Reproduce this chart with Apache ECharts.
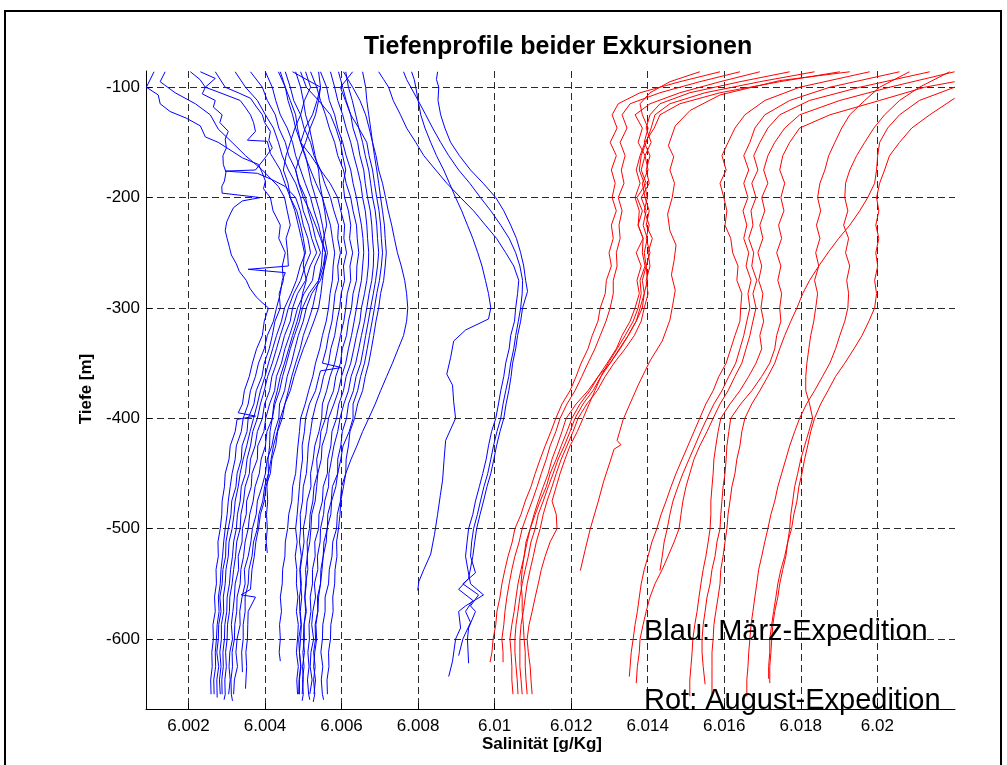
<!DOCTYPE html>
<html><head><meta charset="utf-8">
<script src="https://cdn.jsdelivr.net/npm/echarts@6/dist/echarts.min.js"></script>
<style>html,body{margin:0;padding:0;background:#fff}#c{width:1007px;height:765px}</style>
</head><body><div id="c"></div>
<script>
// ---- tick labels ----
const xTicks = [6.002, 6.004, 6.006, 6.008, 6.010, 6.012, 6.014, 6.016, 6.018, 6.020];
const yTicks = [-600, -500, -400, -300, -200, -100];

// ---- depth grids (m) ----
const DG = [-86,-100,-112,-125,-137,-150,-162,-175,-187,-200,-212,-225,-237,-250,-262,-275,-287,-300,-312,-325,-337,-350,-362,-375,-387,-400,-412,-425,-437,-450,-462,-475,-487,-500,-512,-525,-537,-550,-562,-575,-587,-600,-612,-625,-637,-650];
const DG100 = [-100,-112,-125,-137,-150,-162,-175,-187,-200,-212,-225,-237,-250,-262,-275,-287,-300,-312,-325,-337,-350,-362,-375,-387,-400,-412,-425,-437,-450,-462,-475,-487,-500,-512,-525,-537,-550,-562,-575,-587,-600,-612,-625,-637,-650];
const DG125 = [-125,-137,-150,-162,-175,-187,-200,-212,-225,-237,-250,-262,-275,-287,-300,-312,-325,-337,-350,-362,-375,-387,-400,-412,-425,-437,-450,-462,-475,-487,-500,-512,-525,-537,-550,-562,-575,-587,-600,-612,-625];
const DR = [-86,-95,-105,-115,-125,-137,-150,-162,-175,-187,-200,-212,-225,-237,-250,-262,-275,-287,-300,-312,-325,-337,-350,-362,-375,-387,-400,-412,-425,-437,-450,-462,-475,-487,-500,-512,-525,-537,-550,-562,-575,-587,-600,-612,-625,-637,-650];

// ---- Blue profiles (March), explicit [salinity, depth] ----
const blueL1 = [[6.00110,-86],[6.00090,-100],[6.00121,-107],[6.00126,-115],[6.00152,-122],[6.00194,-128],[6.00231,-135],[6.00244,-145],[6.00278,-150],[6.00314,-158],[6.00341,-164],[6.00383,-170],[6.00392,-177],[6.00401,-185],[6.00396,-192],[6.00414,-200],[6.00421,-212],[6.00440,-225],[6.00436,-237],[6.00453,-250],[6.00445,-262],[6.00448,-275],[6.00437,-287],[6.00440,-300],[6.00426,-312],[6.00419,-325],[6.00411,-337],[6.00398,-350],[6.00392,-362],[6.00377,-375],[6.00371,-387],[6.00356,-400],[6.00353,-412],[6.00340,-425],[6.00338,-437],[6.00327,-450],[6.00324,-462],[6.00313,-475],[6.00311,-487],[6.00304,-500],[6.00298,-512],[6.00297,-525],[6.00290,-537],[6.00288,-550],[6.00282,-562],[6.00285,-575],[6.00279,-587],[6.00278,-600],[6.00274,-612],[6.00279,-625],[6.00274,-637],[6.00275,-653]];
const blueL2 = [[6.00205,-86],[6.00230,-93],[6.00244,-100],[6.00236,-106],[6.00270,-112],[6.00265,-118],[6.00288,-125],[6.00282,-132],[6.00304,-140],[6.00296,-147],[6.00299,-155],[6.00290,-162],[6.00291,-170],[6.00298,-177],[6.00294,-185],[6.00287,-190],[6.00288,-196],[6.00388,-200],[6.00341,-203],[6.00318,-209],[6.00309,-215],[6.00300,-222],[6.00296,-230],[6.00301,-237],[6.00307,-245],[6.00312,-252],[6.00325,-260],[6.00333,-267],[6.00351,-275],[6.00360,-282],[6.00377,-290],[6.00392,-295],[6.00409,-300],[6.00398,-312],[6.00393,-325],[6.00378,-337],[6.00367,-350],[6.00359,-362],[6.00346,-375],[6.00341,-387],[6.00330,-395],[6.00375,-398],[6.00327,-401],[6.00322,-412],[6.00309,-425],[6.00306,-437],[6.00296,-450],[6.00294,-462],[6.00288,-475],[6.00287,-487],[6.00283,-500],[6.00277,-512],[6.00278,-525],[6.00272,-537],[6.00273,-550],[6.00268,-562],[6.00270,-575],[6.00264,-587],[6.00265,-600],[6.00261,-612],[6.00262,-625],[6.00258,-637],[6.00259,-650]];
const blueA2 = [[6.00139,-86],[6.00126,-95],[6.00165,-105],[6.00218,-115],[6.00257,-125],[6.00278,-138],[6.00314,-150],[6.00349,-162],[6.00393,-175],[6.00435,-190],[6.00451,-200],[6.00458,-212],[6.00466,-225],[6.00455,-237],[6.00459,-250],[6.00461,-262],[6.00356,-265],[6.00453,-268],[6.00445,-275],[6.00440,-287],[6.00430,-300],[6.00422,-312],[6.00406,-325],[6.00398,-337],[6.00383,-350],[6.00375,-362],[6.00362,-375],[6.00356,-387],[6.00343,-400],[6.00338,-412],[6.00325,-425],[6.00322,-437],[6.00314,-450],[6.00309,-462],[6.00304,-475],[6.00301,-487],[6.00296,-500],[6.00292,-512],[6.00289,-525],[6.00285,-537],[6.00283,-550],[6.00278,-562],[6.00280,-575],[6.00275,-587],[6.00273,-600],[6.00270,-612],[6.00271,-625],[6.00266,-637],[6.00267,-650]];
const blueA4 = [[6.00231,-86],[6.00270,-92],[6.00244,-100],[6.00275,-104],[6.00335,-112],[6.00348,-118],[6.00362,-125],[6.00370,-132],[6.00375,-140],[6.00354,-148],[6.00406,-149],[6.00414,-160],[6.00428,-168],[6.00440,-175],[6.00452,-187],[6.00466,-200],[6.00483,-212],[6.00493,-225],[6.00500,-237],[6.00506,-250],[6.00492,-262],[6.00482,-275],[6.00468,-287],[6.00451,-300],[6.00443,-312],[6.00430,-325],[6.00420,-337],[6.00409,-350],[6.00400,-362],[6.00388,-375],[6.00380,-387],[6.00370,-400],[6.00361,-412],[6.00352,-425],[6.00343,-437],[6.00335,-450],[6.00330,-462],[6.00322,-475],[6.00319,-487],[6.00314,-500],[6.00306,-512],[6.00304,-525],[6.00298,-537],[6.00296,-550],[6.00291,-562],[6.00292,-575],[6.00286,-587],[6.00286,-600],[6.00282,-612],[6.00285,-625],[6.00281,-637],[6.00283,-650]];
const blueA5 = [[6.00270,-86],[6.00296,-100],[6.00330,-105],[6.00362,-110],[6.00378,-118],[6.00393,-125],[6.00399,-132],[6.00414,-140],[6.00410,-148],[6.00419,-155],[6.00398,-165],[6.00375,-175],[6.00296,-176],[6.00380,-178],[6.00420,-184],[6.00453,-190],[6.00480,-200],[6.00492,-212],[6.00500,-225],[6.00512,-237],[6.00519,-250],[6.00505,-262],[6.00493,-275],[6.00475,-287],[6.00461,-300],[6.00452,-312],[6.00440,-325],[6.00430,-337],[6.00419,-350],[6.00407,-362],[6.00398,-375],[6.00388,-387],[6.00380,-400],[6.00368,-412],[6.00362,-425],[6.00353,-437],[6.00349,-450],[6.00338,-462],[6.00335,-475],[6.00328,-487],[6.00325,-500],[6.00318,-512],[6.00315,-525],[6.00310,-537],[6.00307,-550],[6.00301,-562],[6.00300,-575],[6.00295,-587],[6.00294,-600],[6.00290,-612],[6.00291,-625],[6.00287,-637],[6.00288,-650]];
const blueA12 = [[6.00540,-86],[6.00545,-100],[6.00540,-112],[6.00532,-125],[6.00518,-137],[6.00506,-150],[6.00492,-162],[6.00480,-175],[6.00488,-187],[6.00500,-200],[6.00517,-212],[6.00532,-225],[6.00545,-237],[6.00558,-250],[6.00555,-262],[6.00550,-275],[6.00546,-287],[6.00540,-300],[6.00528,-312],[6.00514,-325],[6.00500,-337],[6.00487,-350],[6.00476,-362],[6.00466,-375],[6.00452,-387],[6.00445,-400],[6.00433,-412],[6.00428,-425],[6.00418,-437],[6.00414,-450],[6.00402,-462],[6.00398,-475],[6.00388,-487],[6.00383,-500],[6.00376,-512],[6.00372,-525],[6.00366,-537],[6.00362,-555],[6.00338,-560],[6.00375,-562],[6.00356,-575],[6.00355,-587],[6.00354,-600],[6.00350,-612],[6.00352,-625],[6.00349,-645]];
const blueB1 = [[6.00453,-86],[6.00466,-100],[6.00475,-112],[6.00493,-125],[6.00502,-137],[6.00519,-150],[6.00528,-162],[6.00545,-175],[6.00556,-187],[6.00571,-200],[6.00580,-212],[6.00592,-225],[6.00590,-237],[6.00597,-250],[6.00590,-262],[6.00592,-275],[6.00583,-287],[6.00579,-300],[6.00575,-312],[6.00566,-325],[6.00560,-337],[6.00550,-350],[6.00600,-354],[6.00545,-357],[6.00541,-362],[6.00532,-375],[6.00516,-387],[6.00506,-400],[6.00503,-412],[6.00497,-425],[6.00498,-437],[6.00493,-450],[6.00490,-462],[6.00487,-475],[6.00484,-487],[6.00480,-500],[6.00484,-512],[6.00479,-525],[6.00483,-537],[6.00482,-550],[6.00486,-562],[6.00482,-575],[6.00487,-587],[6.00485,-600],[6.00482,-612],[6.00487,-625],[6.00483,-637],[6.00485,-650]];
const blueC1 = [[6.00697,-86],[6.00710,-93],[6.00723,-100],[6.00735,-112],[6.00754,-125],[6.00770,-137],[6.00794,-150],[6.00815,-162],[6.00846,-175],[6.00875,-187],[6.00911,-200],[6.00945,-212],[6.00976,-225],[6.01005,-237],[6.01029,-250],[6.01050,-262],[6.01063,-275],[6.01060,-287],[6.01055,-300],[6.01052,-312],[6.01042,-325],[6.01038,-337],[6.01029,-350],[6.01024,-362],[6.01016,-375],[6.01010,-387],[6.01003,-400],[6.00992,-412],[6.00984,-425],[6.00978,-437],[6.00969,-450],[6.00960,-462],[6.00950,-475],[6.00943,-487],[6.00932,-500],[6.00928,-512],[6.00924,-525],[6.00930,-537],[6.00937,-550],[6.00971,-560],[6.00924,-570],[6.00906,-575],[6.00911,-590],[6.00898,-600],[6.00890,-620],[6.00880,-634]];
const blueC2 = [[6.00762,-86],[6.00770,-93],[6.00781,-100],[6.00800,-112],[6.00820,-125],[6.00838,-137],[6.00859,-150],[6.00880,-162],[6.00906,-175],[6.00935,-187],[6.00963,-200],[6.00990,-212],[6.01016,-225],[6.01038,-237],[6.01055,-250],[6.01066,-262],[6.01073,-275],[6.01072,-287],[6.01068,-300],[6.01062,-312],[6.01055,-325],[6.01050,-337],[6.01042,-350],[6.01037,-362],[6.01029,-375],[6.01022,-387],[6.01016,-400],[6.01006,-412],[6.00997,-425],[6.00990,-437],[6.00982,-450],[6.00972,-462],[6.00963,-475],[6.00955,-487],[6.00945,-500],[6.00940,-512],[6.00937,-525],[6.00950,-540],[6.00917,-550],[6.00958,-560],[6.00937,-570],[6.00950,-575],[6.00932,-590],[6.00929,-600],[6.00932,-622]];
const blueC3 = [[6.00851,-86],[6.00848,-93],[6.00854,-100],[6.00852,-112],[6.00859,-125],[6.00870,-137],[6.00885,-150],[6.00908,-162],[6.00937,-175],[6.00970,-187],[6.01003,-200],[6.01024,-212],[6.01042,-225],[6.01057,-237],[6.01068,-250],[6.01076,-262],[6.01081,-275],[6.01086,-285],[6.01073,-300],[6.01068,-312],[6.01060,-325],[6.01055,-337],[6.01047,-350],[6.01043,-362],[6.01037,-375],[6.01030,-387],[6.01024,-400],[6.01014,-412],[6.01005,-425],[6.00998,-437],[6.00990,-450],[6.00980,-462],[6.00971,-475],[6.00962,-487],[6.00953,-500],[6.00948,-512],[6.00943,-525],[6.00932,-545],[6.00906,-555],[6.00943,-565],[6.00924,-575],[6.00937,-585],[6.00917,-600],[6.00906,-615]];
const blueD = [[6.00783,-86],[6.00790,-93],[6.00794,-100],[6.00800,-112],[6.00807,-125],[6.00818,-137],[6.00833,-150],[6.00848,-162],[6.00867,-175],[6.00882,-187],[6.00898,-200],[6.00914,-212],[6.00929,-225],[6.00943,-237],[6.00956,-250],[6.00967,-262],[6.00976,-275],[6.00984,-287],[6.00990,-300],[6.00984,-310],[6.00924,-320],[6.00893,-330],[6.00885,-345],[6.00875,-360],[6.00890,-370],[6.00893,-385],[6.00898,-400],[6.00872,-420],[6.00868,-437],[6.00864,-456],[6.00858,-470],[6.00851,-487],[6.00843,-505],[6.00833,-523],[6.00815,-537],[6.00802,-548],[6.00799,-556]];

// ---- Blue profiles on the DG grid (salinity only) ----
const salA6 = [6.00322,6.00349,6.00380,6.00401,6.00422,6.00435,6.00445,6.00461,6.00480,6.00493,6.00500,6.00514,6.00522,6.00535,6.00518,6.00506,6.00485,6.00472,6.00466,6.00451,6.00442,6.00430,6.00418,6.00412,6.00399,6.00393,6.00380,6.00374,6.00362,6.00359,6.00348,6.00344,6.00337,6.00335,6.00326,6.00323,6.00318,6.00314,6.00308,6.00307,6.00302,6.00301,6.00297,6.00299,6.00295,6.00296];
const salA7 = [6.00362,6.00393,6.00406,6.00427,6.00436,6.00453,6.00462,6.00480,6.00489,6.00506,6.00513,6.00524,6.00532,6.00545,6.00530,6.00524,6.00502,6.00485,6.00476,6.00464,6.00452,6.00443,6.00430,6.00425,6.00412,6.00402,6.00397,6.00381,6.00380,6.00366,6.00364,6.00352,6.00351,6.00341,6.00340,6.00330,6.00331,6.00322,6.00320,6.00316,6.00312,6.00315,6.00308,6.00306,6.00309,6.00305];
const salA8 = [6.00401,6.00419,6.00428,6.00440,6.00458,6.00472,6.00480,6.00493,6.00505,6.00519,6.00528,6.00540,6.00548,6.00558,6.00552,6.00540,6.00515,6.00498,6.00490,6.00477,6.00466,6.00456,6.00446,6.00438,6.00426,6.00419,6.00405,6.00401,6.00390,6.00385,6.00374,6.00369,6.00360,6.00356,6.00348,6.00344,6.00337,6.00335,6.00327,6.00326,6.00321,6.00320,6.00314,6.00315,6.00311,6.00312];
const salA9 = [6.00440,6.00453,6.00466,6.00480,6.00485,6.00493,6.00506,6.00514,6.00521,6.00532,6.00542,6.00550,6.00556,6.00563,6.00556,6.00545,6.00522,6.00508,6.00500,6.00487,6.00478,6.00469,6.00458,6.00451,6.00438,6.00436,6.00425,6.00418,6.00406,6.00401,6.00392,6.00380,6.00377,6.00367,6.00363,6.00356,6.00346,6.00348,6.00340,6.00334,6.00335,6.00327,6.00324,6.00328,6.00320,6.00318];
const salA10 = [6.00480,6.00493,6.00500,6.00506,6.00516,6.00524,6.00531,6.00540,6.00543,6.00550,6.00556,6.00561,6.00553,6.00550,6.00547,6.00540,6.00532,6.00524,6.00513,6.00500,6.00492,6.00480,6.00470,6.00461,6.00452,6.00440,6.00432,6.00422,6.00416,6.00409,6.00399,6.00394,6.00384,6.00380,6.00370,6.00366,6.00358,6.00356,6.00348,6.00348,6.00343,6.00343,6.00339];
const salA11 = [6.00506,6.00519,6.00503,6.00493,6.00478,6.00466,6.00455,6.00448,6.00460,6.00466,6.00478,6.00487,6.00495,6.00503,6.00500,6.00508,6.00498,6.00493,6.00484,6.00472,6.00462,6.00451,6.00440,6.00432,6.00423,6.00419,6.00413,6.00412,6.00408,6.00409,6.00405,6.00407,6.00404,6.00406,6.00403];
const salB2 = [6.00472,6.00545,6.00536,6.00524,6.00505,6.00493,6.00520,6.00545,6.00570,6.00590,6.00598,6.00608,6.00606,6.00613,6.00605,6.00608,6.00599,6.00595,6.00588,6.00582,6.00572,6.00566,6.00553,6.00545,6.00533,6.00524,6.00519,6.00513,6.00511,6.00508,6.00500,6.00498,6.00492,6.00493,6.00490,6.00495,6.00491,6.00493,6.00496,6.00492,6.00495,6.00493,6.00490,6.00494,6.00490,6.00490];
const salB3 = [6.00493,6.00508,6.00540,6.00571,6.00585,6.00597,6.00603,6.00611,6.00604,6.00608,6.00618,6.00624,6.00621,6.00629,6.00622,6.00624,6.00615,6.00611,6.00606,6.00597,6.00590,6.00582,6.00570,6.00561,6.00550,6.00548,6.00541,6.00530,6.00526,6.00519,6.00520,6.00510,6.00507,6.00500,6.00502,6.00497,6.00492,6.00495,6.00490,6.00491,6.00494,6.00488,6.00490,6.00493,6.00489,6.00488];
const salB4 = [6.00519,6.00535,6.00545,6.00558,6.00568,6.00582,6.00590,6.00605,6.00612,6.00624,6.00630,6.00639,6.00641,6.00645,6.00640,6.00639,6.00630,6.00626,6.00618,6.00613,6.00602,6.00597,6.00585,6.00579,6.00565,6.00558,6.00546,6.00543,6.00535,6.00537,6.00528,6.00525,6.00518,6.00516,6.00510,6.00511,6.00506,6.00508,6.00504,6.00506,6.00502,6.00503,6.00499,6.00502,6.00498,6.00500];
const salB5 = [6.00545,6.00561,6.00568,6.00582,6.00590,6.00603,6.00612,6.00624,6.00630,6.00639,6.00645,6.00652,6.00656,6.00658,6.00655,6.00652,6.00645,6.00639,6.00633,6.00626,6.00618,6.00611,6.00600,6.00592,6.00580,6.00566,6.00561,6.00549,6.00547,6.00538,6.00535,6.00531,6.00522,6.00520,6.00517,6.00510,6.00512,6.00506,6.00504,6.00508,6.00502,6.00500,6.00503,6.00498,6.00500,6.00497];
const salB6 = [6.00571,6.00582,6.00590,6.00603,6.00612,6.00624,6.00632,6.00642,6.00650,6.00655,6.00662,6.00666,6.00668,6.00671,6.00670,6.00666,6.00660,6.00652,6.00648,6.00639,6.00632,6.00624,6.00612,6.00605,6.00593,6.00587,6.00575,6.00572,6.00564,6.00563,6.00552,6.00550,6.00541,6.00540,6.00530,6.00531,6.00524,6.00524,6.00518,6.00520,6.00515,6.00516,6.00512,6.00515,6.00511,6.00514];
const salB7 = [6.00592,6.00603,6.00612,6.00624,6.00630,6.00642,6.00648,6.00658,6.00662,6.00668,6.00675,6.00679,6.00681,6.00684,6.00683,6.00679,6.00672,6.00666,6.00660,6.00652,6.00645,6.00637,6.00625,6.00618,6.00606,6.00596,6.00590,6.00580,6.00574,6.00567,6.00566,6.00556,6.00553,6.00545,6.00544,6.00537,6.00538,6.00529,6.00532,6.00525,6.00522,6.00527,6.00520,6.00518,6.00523,6.00517];
const salB8 = [6.00611,6.00618,6.00628,6.00637,6.00645,6.00655,6.00662,6.00671,6.00676,6.00681,6.00688,6.00692,6.00694,6.00697,6.00694,6.00689,6.00683,6.00676,6.00670,6.00663,6.00657,6.00650,6.00638,6.00631,6.00618,6.00613,6.00602,6.00598,6.00590,6.00590,6.00576,6.00573,6.00564,6.00563,6.00554,6.00552,6.00546,6.00545,6.00537,6.00538,6.00531,6.00532,6.00527,6.00531,6.00527,6.00530];
const salB9 = [6.00629,6.00597,6.00610,6.00624,6.00645,6.00666,6.00672,6.00681,6.00686,6.00692,6.00698,6.00702,6.00704,6.00707,6.00704,6.00699,6.00692,6.00686,6.00680,6.00673,6.00667,6.00660,6.00650,6.00642,6.00630,6.00630,6.00620,6.00604,6.00598,6.00590,6.00585,6.00574,6.00572,6.00562,6.00560,6.00552,6.00549,6.00545,6.00540,6.00538,6.00533,6.00535,6.00530,6.00527,6.00532,6.00528];
const salB10 = [6.00655,6.00663,6.00666,6.00671,6.00676,6.00681,6.00686,6.00692,6.00697,6.00702,6.00707,6.00712,6.00714,6.00717,6.00714,6.00710,6.00702,6.00697,6.00690,6.00684,6.00678,6.00671,6.00662,6.00655,6.00642,6.00634,6.00622,6.00618,6.00612,6.00611,6.00600,6.00597,6.00589,6.00587,6.00577,6.00575,6.00568,6.00566,6.00557,6.00557,6.00551,6.00550,6.00546,6.00551,6.00547,6.00550];
const salB11 = [6.00605,6.00629,6.00648,6.00663,6.00672,6.00681,6.00690,6.00697,6.00707,6.00715,6.00722,6.00731,6.00738,6.00746,6.00756,6.00765,6.00770,6.00773,6.00770,6.00762,6.00748,6.00733,6.00718,6.00702,6.00688,6.00671,6.00655,6.00640,6.00625,6.00611,6.00605,6.00598,6.00596,6.00592,6.00587,6.00588,6.00583,6.00582,6.00577,6.00578,6.00572,6.00571,6.00566,6.00567,6.00562,6.00563];
const salB12 = [6.00435,6.00453,6.00460,6.00472,6.00480,6.00493,6.00504,6.00519,6.00533,6.00550,6.00560,6.00571,6.00576,6.00582,6.00578,6.00576,6.00570,6.00566,6.00560,6.00550,6.00543,6.00532,6.00525,6.00514,6.00505,6.00493,6.00490,6.00486,6.00483,6.00480,6.00472,6.00470,6.00462,6.00459,6.00453,6.00452,6.00446,6.00445,6.00440,6.00443,6.00438,6.00440,6.00437];

// ---- Red profiles (August) ----
const salR1a = [6.01589,6.01484,6.01380,6.01323,6.01307,6.01320,6.01302,6.01318,6.01305,6.01315,6.01307,6.01318,6.01305,6.01310,6.01299,6.01305,6.01292,6.01289,6.01276,6.01270,6.01255,6.01244,6.01226,6.01213,6.01197,6.01176,6.01160,6.01147,6.01132,6.01119,6.01106,6.01095,6.01080,6.01069,6.01053,6.01046,6.01035,6.01027,6.01019,6.01014,6.01006,6.01003,6.00996,6.00993];
const salR1b = [6.01641,6.01536,6.01432,6.01354,6.01333,6.01346,6.01328,6.01341,6.01331,6.01338,6.01323,6.01333,6.01325,6.01328,6.01318,6.01320,6.01310,6.01310,6.01302,6.01291,6.01276,6.01262,6.01244,6.01228,6.01210,6.01189,6.01171,6.01160,6.01145,6.01135,6.01122,6.01111,6.01098,6.01085,6.01072,6.01064,6.01053,6.01045,6.01038,6.01032,6.01027,6.01024,6.01019,6.01022];
const salR1c = [6.01693,6.01589,6.01484,6.01406,6.01367,6.01386,6.01375,6.01393,6.01383,6.01396,6.01372,6.01386,6.01375,6.01388,6.01370,6.01383,6.01372,6.01378,6.01367,6.01354,6.01333,6.01318,6.01294,6.01271,6.01249,6.01223,6.01202,6.01189,6.01174,6.01161,6.01145,6.01135,6.01119,6.01106,6.01093,6.01085,6.01077,6.01069,6.01061,6.01056,6.01051,6.01045,6.01040,6.01043,6.01045,6.01045,6.01048];
const salR1d = [6.01536,6.01458,6.01406,6.01380,6.01386,6.01401,6.01391,6.01406,6.01396,6.01404,6.01383,6.01396,6.01388,6.01399,6.01391,6.01396,6.01386,6.01391,6.01380,6.01370,6.01349,6.01328,6.01302,6.01278,6.01257,6.01231,6.01210,6.01197,6.01182,6.01166,6.01153,6.01140,6.01127,6.01114,6.01106,6.01095,6.01088,6.01080,6.01072,6.01066,6.01061,6.01056,6.01053,6.01053,6.01056,6.01059,6.01061];
const salR1e = [6.01771,6.01641,6.01510,6.01432,6.01406,6.01396,6.01409,6.01393,6.01401,6.01386,6.01393,6.01404,6.01396,6.01412,6.01401,6.01406,6.01396,6.01401,6.01391,6.01383,6.01365,6.01341,6.01312,6.01289,6.01268,6.01241,6.01218,6.01205,6.01189,6.01174,6.01161,6.01150,6.01137,6.01127,6.01119,6.01109,6.01101,6.01093,6.01085,6.01080,6.01075,6.01069,6.01066,6.01066,6.01066,6.01069,6.01072];
const salR1f = [6.01836,6.01693,6.01550,6.01458,6.01419,6.01409,6.01396,6.01383,6.01378,6.01391,6.01399,6.01391,6.01404,6.01396,6.01406,6.01396,6.01399,6.01391,6.01386,6.01370,6.01349,6.01326,6.01302,6.01271,6.01244,6.01213,6.01187,6.01176,6.01163,6.01150,6.01140,6.01127,6.01114,6.01103,6.01093,6.01082,6.01077,6.01072,6.01069,6.01072,6.01072,6.01075,6.01077,6.01080,6.01080,6.01082,6.01085];
const salR1g = [6.01902,6.01745,6.01589,6.01484,6.01432,6.01417,6.01393,6.01380,6.01370,6.01380,6.01367,6.01378,6.01375,6.01388,6.01386,6.01393,6.01380,6.01383,6.01375,6.01362,6.01341,6.01320,6.01297,6.01278,6.01262,6.01247,6.01231,6.01216,6.01197,6.01184,6.01171,6.01161,6.01150,6.01161,6.01163,6.01145,6.01132,6.01122,6.01114,6.01106,6.01098,6.01090,6.01085,6.01088,6.01093,6.01095,6.01098];
const redR2 = [[6.01928,-86],[6.01745,-94],[6.01589,-107],[6.01511,-121],[6.01472,-135],[6.01454,-153],[6.01468,-163],[6.01458,-175],[6.01470,-187],[6.01464,-200],[6.01452,-215],[6.01458,-230],[6.01474,-243],[6.01469,-257],[6.01462,-270],[6.01472,-284],[6.01465,-298],[6.01458,-311],[6.01438,-330],[6.01406,-348],[6.01375,-370],[6.01356,-385],[6.01336,-401],[6.01320,-420],[6.01330,-424],[6.01312,-428],[6.01302,-439],[6.01285,-457],[6.01271,-475],[6.01250,-500],[6.01236,-520],[6.01224,-538]];
const salM1 = [6.01980,6.01797,6.01706,6.01654,6.01628,6.01610,6.01594,6.01605,6.01589,6.01599,6.01607,6.01602,6.01617,6.01622,6.01636,6.01633,6.01646,6.01643,6.01641,6.01628,6.01617,6.01605,6.01586,6.01571,6.01552,6.01536,6.01521,6.01505,6.01490,6.01474,6.01461,6.01448,6.01435,6.01424,6.01411,6.01401,6.01391,6.01383,6.01378,6.01373,6.01367,6.01362,6.01357,6.01354];
const salM2 = [6.02058,6.01876,6.01771,6.01706,6.01680,6.01667,6.01651,6.01664,6.01651,6.01662,6.01649,6.01659,6.01651,6.01664,6.01657,6.01670,6.01662,6.01667,6.01659,6.01651,6.01641,6.01630,6.01612,6.01594,6.01573,6.01555,6.01539,6.01523,6.01508,6.01492,6.01479,6.01466,6.01458,6.01451,6.01443,6.01438];
const salM3 = [6.02137,6.01954,6.01823,6.01745,6.01714,6.01693,6.01677,6.01688,6.01672,6.01683,6.01670,6.01675,6.01664,6.01677,6.01672,6.01685,6.01675,6.01683,6.01675,6.01667,6.01657,6.01646,6.01628,6.01610,6.01589,6.01571,6.01555,6.01536,6.01521,6.01510,6.01500,6.01492,6.01487,6.01482,6.01469,6.01453,6.01438,6.01419,6.01406,6.01396,6.01388,6.01380,6.01378,6.01373];
const salM4 = [6.02202,6.02032,6.01902,6.01797,6.01758,6.01732,6.01714,6.01703,6.01714,6.01698,6.01706,6.01693,6.01701,6.01688,6.01698,6.01690,6.01701,6.01696,6.01703,6.01693,6.01698,6.01683,6.01664,6.01641,6.01615,6.01591,6.01584,6.01578,6.01573,6.01571,6.01568,6.01565,6.01565,6.01563,6.01558,6.01552,6.01545,6.01539,6.01534,6.01529,6.01523,6.01518,6.01516,6.01513,6.01510];
const salM5 = [6.02124,6.02006,6.01876,6.01797,6.01771,6.01753,6.01745,6.01758,6.01748,6.01756,6.01742,6.01750,6.01737,6.01748,6.01740,6.01750,6.01745,6.01748,6.01737,6.01732,6.01719,6.01698,6.01672,6.01643,6.01617,6.01612,6.01607,6.01605,6.01602,6.01597,6.01594,6.01591,6.01589,6.01581,6.01576,6.01568,6.01563,6.01555,6.01550,6.01545,6.01542,6.01542,6.01545];
const salM6 = [6.02202,6.02110,6.02058,6.02027,6.02006,6.02001,6.01998,6.01993,6.01975,6.01954,6.01928,6.01899,6.01871,6.01847,6.01823,6.01805,6.01790,6.01774,6.01758,6.01745,6.01732,6.01714,6.01693,6.01672,6.01654,6.01646,6.01641,6.01633,6.01628,6.01620,6.01615,6.01610,6.01607,6.01602,6.01597,6.01591,6.01589,6.01584,6.01578,6.01573,6.01571,6.01568,6.01568,6.01568,6.01568];
const salM7 = [6.02189,6.02110,6.02058,6.02019,6.01991,6.01967,6.01946,6.01928,6.01917,6.01915,6.01923,6.01912,6.01925,6.01917,6.01928,6.01920,6.01925,6.01923,6.01915,6.01902,6.01891,6.01876,6.01857,6.01836,6.01815,6.01797,6.01784,6.01771,6.01761,6.01750,6.01740,6.01732,6.01722,6.01714,6.01706,6.01698,6.01690,6.01685,6.01680,6.01675,6.01670,6.01667,6.01664,6.01662,6.01659];
const salM8 = [6.02137,6.02090,6.02058,6.02032,6.02019,6.02006,6.01998,6.02004,6.01996,6.02004,6.01996,6.02001,6.01993,6.01998,6.01993,6.01978,6.01960,6.01939,6.01915,6.01891,6.01871,6.01852,6.01836,6.01826,6.01818,6.01810,6.01803,6.01795,6.01790,6.01782,6.01776,6.01766,6.01758,6.01748,6.01740,6.01735,6.01729,6.01724,6.01719,6.01719,6.01716];
const salM9 = [6.02084,6.02006,6.01967,6.01928,6.01907,6.01889,6.01873,6.01863,6.01850,6.01844,6.01852,6.01841,6.01850,6.01839,6.01847,6.01836,6.01844,6.01839,6.01834,6.01826,6.01821,6.01816,6.01813,6.01813,6.01823,6.01831,6.01821,6.01810,6.01800,6.01792,6.01784,6.01779,6.01774,6.01771,6.01766,6.01761,6.01753,6.01745,6.01740,6.01732,6.01727,6.01724,6.01722,6.01719];

// profile = [head pairs, depth grid, salinities, tail pairs]
const blueProfiles = [
  [blueL1], [blueL2], [blueA2], [blueA4], [blueA5], [blueA12], [blueB1], [blueC1], [blueC2], [blueC3], [blueD],
  [[], DG, salA6, [[6.00293,-655]]], [[], DG, salA7], [[], DG, salA8, [[6.00315,-656]]], [[], DG, salA9],
  [[], DG, salA10, [[6.00341,-630]]], [[], DG, salA11, [[6.00406,-522]]],
  [[], DG, salB2], [[], DG, salB3], [[], DG, salB4, [[6.00497,-656]]], [[], DG, salB5], [[], DG, salB6, [[6.00517,-655]]],
  [[], DG, salB7], [[], DG, salB8, [[6.00526,-657]]], [[], DG, salB9], [[], DG, salB10, [[6.00553,-655]]], [[], DG, salB11],
  [[], DG, salB12, [[6.00440,-620]]]
];
const redProfiles = [
  [[], DR, salR1a, [[6.00988,-621]]], [[], DR, salR1b, [[6.01022,-621]]],
  [[], DR, salR1c], [[], DR, salR1d], [[], DR, salR1e], [[], DR, salR1f], [[], DR, salR1g],
  [redR2],
  [[], DG, salM1, [[6.01352,-634]]], [[], DG, salM2, [[6.01432,-538]]], [[], DG, salM3, [[6.01370,-640]]],
  [[], DG, salM4, [[6.01510,-652]]], [[[6.02202,-95]], DG100, salM5, [[6.01550,-641]]],
  [[], DG100, salM6], [[], DG, salM7, [[6.01659,-652]]], [[[6.02202,-110]], DG125, salM8, [[6.01716,-636]]],
  [[], DG, salM9, [[6.01719,-640]]]
];

function build(p) {
  const head = p[0] || [], d = p[1], s = p[2], tail = p[3] || [];
  const mid = s ? s.map((v, i) => [v, d[i]]) : [];
  return head.concat(mid, tail);
}

const FONT = "'Liberation Sans', Arial, Helvetica, sans-serif";
const chart = echarts.init(document.getElementById('c'), null, {renderer: 'canvas'});
const series = [];
blueProfiles.forEach(p => series.push({
  type: 'line', data: build(p), showSymbol: false, symbol: 'none', silent: true, animation: false, z: 3,
  lineStyle: {color: '#0000ff', width: 1}
}));
redProfiles.forEach(p => series.push({
  type: 'line', data: build(p), showSymbol: false, symbol: 'none', silent: true, animation: false, z: 3,
  lineStyle: {color: '#ff0000', width: 1}
}));

const gridLine = {show: true, lineStyle: {color: '#2a2a2a', width: 1, type: [7, 4]}};
chart.setOption({
  backgroundColor: '#ffffff',
  animation: false,
  grid: {left: 146, right: 52, top: 71, bottom: 56, containLabel: false, outerBoundsMode: 'none'},
  xAxis: {
    type: 'value', min: 6.00089, max: 6.02203,
    axisLine: {show: true, onZero: false, lineStyle: {color: '#000', width: 1}},
    axisTick: {show: true, inside: true, length: 6, customValues: xTicks, lineStyle: {color: '#000'}},
    axisLabel: {show: true, customValues: xTicks, margin: 9, color: '#000', fontSize: 17, fontFamily: FONT,
      formatter: v => String(parseFloat(Number(v).toFixed(3)))},
    splitLine: gridLine
  },
  yAxis: {
    type: 'value', min: -663.4, max: -85.3,
    axisLine: {show: true, onZero: false, lineStyle: {color: '#000', width: 1}},
    axisTick: {show: true, inside: true, length: 6, customValues: yTicks, lineStyle: {color: '#000'}},
    axisLabel: {show: true, customValues: yTicks, margin: 6, color: '#000', fontSize: 17, fontFamily: FONT},
    splitLine: gridLine
  },
  graphic: [
    {type: 'rect', silent: true, z: 100, shape: {x: 5, y: 11, width: 996, height: 800},
      style: {fill: 'none', stroke: '#000', lineWidth: 2}},
    {type: 'text', silent: true, z: 100, x: 558, y: 47,
      style: {text: 'Tiefenprofile beider Exkursionen', fontSize: 25, fontWeight: 'bold', fontFamily: FONT, fill: '#000',
        align: 'center', verticalAlign: 'middle', textAlign: 'center', textVerticalAlign: 'middle'}},
    {type: 'text', silent: true, z: 100, x: 542, y: 744,
      style: {text: 'Salinität [g/Kg]', fontSize: 17, fontWeight: 'bold', fontFamily: FONT, fill: '#000',
        align: 'center', verticalAlign: 'middle', textAlign: 'center', textVerticalAlign: 'middle'}},
    {type: 'text', silent: true, z: 100, x: 86, y: 389, rotation: Math.PI / 2,
      style: {text: 'Tiefe [m]', fontSize: 17, fontWeight: 'bold', fontFamily: FONT, fill: '#000',
        align: 'center', verticalAlign: 'middle', textAlign: 'center', textVerticalAlign: 'middle'}},
    {type: 'text', silent: true, z: 100, x: 644, y: 632,
      style: {text: 'Blau: März-Expedition', fontSize: 29, fontFamily: FONT, fill: '#000',
        align: 'left', verticalAlign: 'middle', textAlign: 'left', textVerticalAlign: 'middle'}},
    {type: 'text', silent: true, z: 100, x: 644, y: 701,
      style: {text: 'Rot: August-Expedition', fontSize: 29, fontFamily: FONT, fill: '#000',
        align: 'left', verticalAlign: 'middle', textAlign: 'left', textVerticalAlign: 'middle'}}
  ],
  series: series
});
</script>
</body></html>
